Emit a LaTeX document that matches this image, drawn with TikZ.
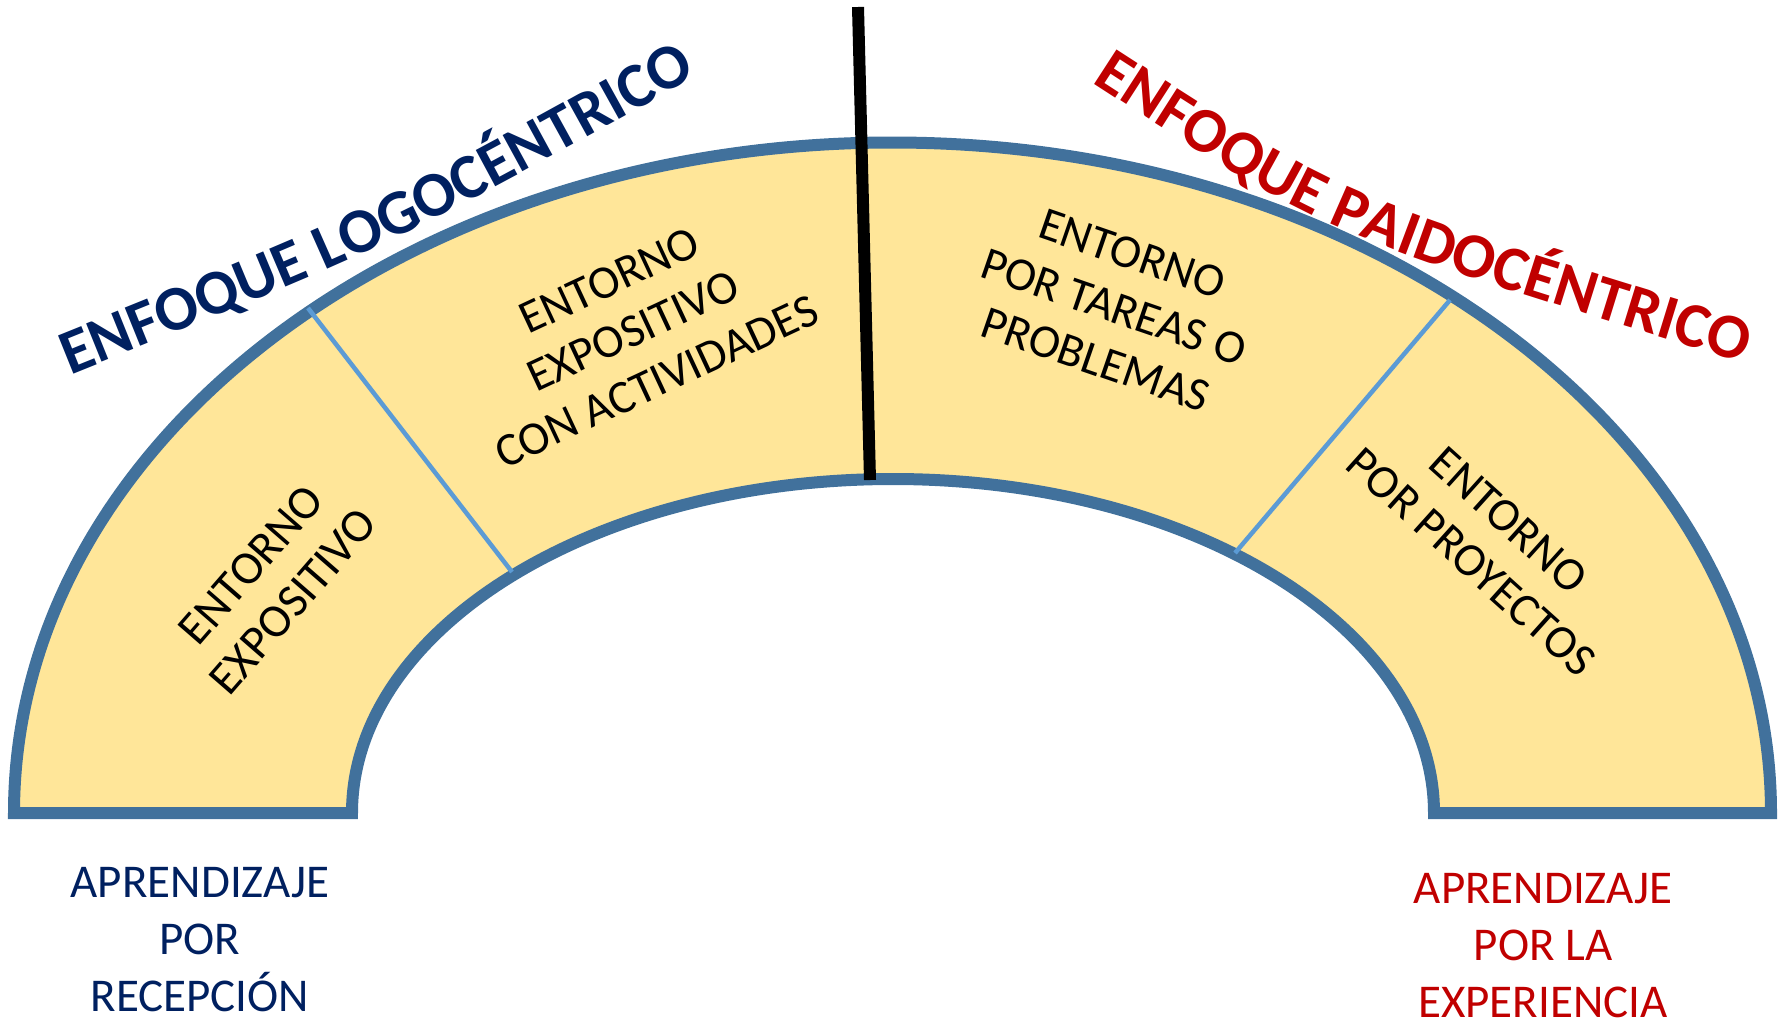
\documentclass[tikz,border=0pt]{standalone}
\usepackage{fontspec}
\setmainfont{Carlito}
\usetikzlibrary{decorations.text}
\definecolor{bandfill}{HTML}{FFE699}
\definecolor{bandline}{HTML}{41719C}
\definecolor{divline}{HTML}{5B9BD5}
\definecolor{navy}{HTML}{002060}
\definecolor{darkred}{HTML}{C00000}
\newcommand\ttlfont{\bfseries\fontsize{63.5}{70}\selectfont}
\tikzset{
  band/.style={fill=bandfill, draw=bandline, line width=12pt, line join=miter},
  divider/.style={draw=divline, line width=4.5pt},
  splitline/.style={draw=black, line width=12pt},
  seg/.style={font=\fontsize{47}{56}\selectfont, align=center, inner sep=0pt, text=black},
  foot/.style={font=\fontsize{47}{57}\selectfont, align=center, inner sep=0pt, anchor=north}
}
\begin{document}
\begin{tikzpicture}[x=1pt,y=-1pt]
\useasboundingbox (0,0) rectangle (1781,1021);
% the arch band
\path[band] (14,813) arc[start angle=180, end angle=360, x radius=878.5, y radius=670.5]
  -- (1434,813) arc[start angle=360, end angle=180, x radius=541, y radius=334] -- cycle;
% dividers
\coordinate (d1o) at (308,308);
\coordinate (d1i) at (512,572);
\coordinate (d2o) at (1450,300);
\coordinate (d2i) at (1235,553);
\draw[divider] (d1o) -- (d1i);
\draw[divider] (d2o) -- (d2i);
% central black line
\coordinate (ctop) at (858,7);
\coordinate (cbot) at (870,480);
\draw[splitline] (ctop) -- (cbot);
% segment texts
\node[seg, rotate=49] (s1) at (272,583) {ENTORNO\\EXPOSITIVO};
\node[seg, rotate=25] (s2) at (633,331) {ENTORNO\\EXPOSITIVO\\CON ACTIVIDADES};
\node[seg, rotate=-19] (s3) at (1114,307) {ENTORNO\\POR TAREAS O\\PROBLEMAS};
\node[seg, rotate=-42] (s4) at (1490,541) {ENTORNO\\POR PROYECTOS};
% titles along gently curved baselines
\coordinate (tls) at (70,375);
\coordinate (tlc) at (395,244);
\coordinate (tle) at (690,80);
\path[decorate, decoration={text along path, text align=left, text color=navy,
    text={|\ttlfont|ENFOQUE LOGOCÉNTRICO}}]
  (tls) .. controls (tlc) .. (tle) -- ++(87,-48);
\coordinate (trs) at (1091,82);
\coordinate (trc) at (1327,235);
\coordinate (tre) at (1735,360);
\path[decorate, decoration={text along path, text align=left, text color=darkred,
    text={|\ttlfont|ENFOQUE PAIDOCÉNTRICO}}]
  (trs) .. controls (trc) .. (tre) -- ++(96,29);
% bottom labels
\node[foot, text=navy] (fl) at (200,867) {APRENDIZAJE\\POR\\RECEPCIÓN};
\node[foot, text=darkred] (fr) at (1543,873) {APRENDIZAJE\\POR LA\\EXPERIENCIA};
\end{tikzpicture}
\end{document}
